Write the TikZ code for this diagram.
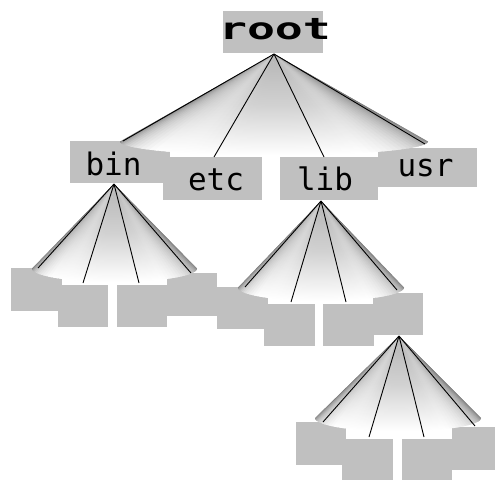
\documentclass[tikz,border=0pt]{standalone}
\usepackage{fontspec}
\usepackage{graphicx}
\newfontfamily\treefont{DejaVu Sans Mono}
\definecolor{boxgray}{RGB}{192,192,192}
\tikzset{
  gbox/.style={rectangle, fill=boxgray, draw=none, inner sep=0pt, outer sep=0pt},
  namelabel/.style={inner sep=0pt, anchor=base, text=black,
    font=\treefont\fontsize{31}{31}\selectfont},
  rootlabel/.style={namelabel, font=\treefont\bfseries\fontsize{30}{30}\selectfont},
  branch/.style={draw=black, line width=0.9pt},
}
% A cone seen from the side: a fan of thin slices from the apex to the
% lower half of the base ellipse, each slice shaded from a grey at the
% apex to a lighter grey at the base.  Dark rims at both sides, two
% soft highlights, white towards the base.
% #1,#2 apex; #3,#4 centre of the base ellipse; #5,#6 its half axes
\newcommand\shadedcone[6]{%
  \foreach \k in {0,...,59}{%
    \pgfmathsetmacro\tm{(\k+0.5)/60}%
    \pgfmathsetmacro\pa{180-3*\k}%
    \pgfmathsetmacro\pb{max(0,180-3*(\k+1.6))}%
    \pgfmathsetmacro\fl{max(0,1-\tm/0.22)}%
    \pgfmathsetmacro\fr{max(0,1-(1-\tm)/0.3)}%
    \pgfmathsetmacro\ga{min(3,abs((\tm-0.3)/0.07))}%
    \pgfmathsetmacro\gb{min(3,abs((\tm-0.74)/0.07))}%
    \pgfmathsetmacro\lt{0.71+0.08*exp(-\ga*\ga)+0.05*exp(-\gb*\gb)-0.34*\fl*\fl-0.30*\fr*\fr}%
    \pgfmathsetmacro\lb{\lt+(1-\lt)*(1-0.85*max(\fl,\fr))}%
    \pgfmathsetmacro\lm{\lt+(\lb-\lt)*0.38}%
    \definecolor{conetop}{gray}{\lt}%
    \definecolor{conemid}{gray}{\lm}%
    \definecolor{conebot}{gray}{\lb}%
    \shade[top color=conetop, bottom color=conebot, middle color=conemid]
      (#1,#2) -- ({#3+#5*cos(\pa)},{#4+#6*sin(\pa)})
      -- ({#3+#5*cos(\pb)},{#4+#6*sin(\pb)}) -- cycle;
  }}
\begin{document}
\begin{tikzpicture}[x=1pt,y=-1pt]
\useasboundingbox (0,0) rectangle (495,479);
\clip (0,0) rectangle (495,479);

% directory boxes
\node[gbox, minimum width=100pt, minimum height=42pt] (root) at (273,32) {};
\node[gbox, minimum width=100pt, minimum height=42pt] (bin) at (120,162) {};
\node[gbox, minimum width=99pt, minimum height=43pt] (etc) at (212.5,178.5) {};
\node[gbox, minimum width=98pt, minimum height=43pt] (lib) at (329,178.5) {};
\node[gbox, minimum width=99pt, minimum height=39pt] (usr) at (427.5,167.5) {};

\node[gbox, minimum width=51pt, minimum height=43pt] (b1) at (36.5,289.5) {};
\node[gbox, minimum width=50pt, minimum height=42pt] (b2) at (83,306) {};
\node[gbox, minimum width=50pt, minimum height=42pt] (b3) at (142,306) {};
\node[gbox, minimum width=50pt, minimum height=43pt] (b4) at (192,294.5) {};

\node[gbox, minimum width=51pt, minimum height=42pt] (l1) at (242.5,308) {};
\node[gbox, minimum width=51pt, minimum height=42pt] (l2) at (289.5,325) {};
\node[gbox, minimum width=51pt, minimum height=42pt] (l3) at (348.5,325) {};
\node[gbox, minimum width=50pt, minimum height=42pt] (l4) at (398,314) {};

\node[gbox, minimum width=50pt, minimum height=43pt] (m1) at (321,443.5) {};
\node[gbox, minimum width=51pt, minimum height=42pt] (m2) at (367.5,460) {};
\node[gbox, minimum width=50pt, minimum height=42pt] (m3) at (427,460) {};
\node[gbox, minimum width=50pt, minimum height=43pt] (m4) at (477,448.5) {};

% cones
\shadedcone{274}{54}{274}{141.5}{154}{14}
\shadedcone{114}{184}{114.5}{268.5}{82.5}{13.5}
\shadedcone{321}{201}{321}{287.5}{83}{13.5}
\shadedcone{399}{336}{398}{418}{83}{13.5}

% apexes
\coordinate (rootapex) at (274,54);
\coordinate (binapex) at (114,184);
\coordinate (libapex) at (321,201);
\coordinate (l4apex) at (399,336);

% branches
\draw[branch] (rootapex) -- ([xshift=3pt]bin.north);
\draw[branch] (rootapex) -- ([xshift=1.5pt]etc.north);
\draw[branch] (rootapex) -- ([xshift=-5pt]lib.north);
\draw[branch] (rootapex) -- ([xshift=-2.5pt,yshift=4pt]usr.north);

\draw[branch] (binapex) -- ([xshift=1.5pt]b1.north);
\draw[branch] (binapex) -- ([yshift=2pt]b2.north);
\draw[branch] (binapex) -- ([xshift=-3pt,yshift=2pt]b3.north);
\draw[branch] (binapex) -- ([xshift=-1pt]b4.north);

\draw[branch] (libapex) -- ([xshift=2.5pt]l1.north);
\draw[branch] (libapex) -- ([xshift=1.5pt,yshift=2pt]l2.north);
\draw[branch] (libapex) -- ([xshift=-2.5pt,yshift=2pt]l3.north);
\draw[branch] (libapex) -- ([xshift=-1pt,yshift=3pt]l4.north);

\draw[branch] (l4apex) -- ([xshift=2pt]m1.north);
\draw[branch] (l4apex) -- ([xshift=1.5pt,yshift=2pt]m2.north);
\draw[branch] (l4apex) -- ([xshift=-3pt,yshift=2pt]m3.north);
\draw[branch] (l4apex) -- ([xshift=-2pt,yshift=1pt]m4.north);

% names
\node[rootlabel] (rootname) at (275,39) {\scalebox{1.55}[1]{root}};
\node[namelabel] (binname) at (113.5,175) {bin};
\node[namelabel] (etcname) at (216,190) {etc};
\node[namelabel] (libname) at (325,190) {lib};
\node[namelabel] (usrname) at (425.5,176) {usr};
\end{tikzpicture}
\end{document}
